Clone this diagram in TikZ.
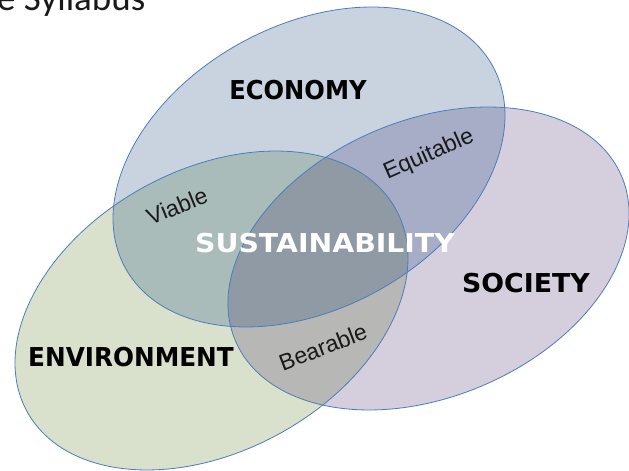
\documentclass[tikz,border=0pt]{standalone}
\usepackage{fontspec}
\setmainfont{Liberation Sans}
\newfontfamily\handfont{DejaVu Sans}
\newfontfamily\titlefont{Carlito}
\definecolor{ecoC}{HTML}{C9D3E0}
\definecolor{socC}{HTML}{D5CFDD}
\definecolor{envC}{HTML}{D9E0CB}
\definecolor{ecoenvC}{HTML}{AABCBA}
\definecolor{ecosocC}{HTML}{A7ACC7}
\definecolor{envsocC}{HTML}{B7B7B6}
\definecolor{midC}{HTML}{8F9AA5}
\definecolor{lineC}{HTML}{4A7EBB}
\newcommand\EcoPath{[rotate around={28.8:(309,304)}] (309,304) ellipse [x radius=209.6, y radius=141.6]}
\newcommand\SocPath{[rotate around={23.1:(428.5,212.5)}] (428.5,212.5) ellipse [x radius=209.9, y radius=138.2]}
\newcommand\EnvPath{[rotate around={28.7:(211.5,160.5)}] (211.5,160.5) ellipse [x radius=210.3, y radius=140.7]}
\begin{document}
\begin{tikzpicture}[x=1pt,y=1pt,
  outl/.style={draw=lineC, line width=0.8pt},
  hand/.style={font=\handfont\bfseries\fontsize{26}{26}\selectfont, text=black, inner sep=0pt},
  word/.style={font=\fontsize{23}{23}\selectfont, text=black!90, inner sep=0pt}]
\useasboundingbox (0,0) rectangle (629,471);
\fill[white] (0,0) rectangle (629,471);
% base fills
\fill[ecoC] \EcoPath;
\fill[socC] \SocPath;
\fill[envC] \EnvPath;
% pairwise overlaps
\begin{scope}
  \clip \EcoPath;
  \fill[ecoenvC] \EnvPath;
\end{scope}
\begin{scope}
  \clip \EcoPath;
  \fill[ecosocC] \SocPath;
\end{scope}
\begin{scope}
  \clip \EnvPath;
  \fill[envsocC] \SocPath;
\end{scope}
% triple overlap
\begin{scope}
  \clip \EcoPath;
  \clip \EnvPath;
  \fill[midC] \SocPath;
\end{scope}
% outlines
\draw[outl] \EcoPath;
\draw[outl] \SocPath;
\draw[outl] \EnvPath;
% labels
\node[hand] (eco) at (298,381) {\scalebox{0.93}[1]{ECONOMY}};
\node[hand,text=white] (sus) at (325,228) {\scalebox{1.09}[1]{SUSTAINABILITY}};
\node[hand] (soc) at (526,188) {\scalebox{1.03}[1]{SOCIETY}};
\node[hand] (env) at (131,114) {\scalebox{0.95}[1]{ENVIRONMENT}};
\node[word,rotate=22] (via) at (177,265) {Viable};
\node[word,rotate=24] (equ) at (429,316) {Equitable};
\node[word,rotate=21] (bea) at (323,124) {Bearable};
\node[anchor=base west, font=\titlefont\fontsize{37}{37}\selectfont, inner sep=0pt, text=black!90] (ttl) at (-3,460) {e Syllabus};
\end{tikzpicture}
\end{document}
